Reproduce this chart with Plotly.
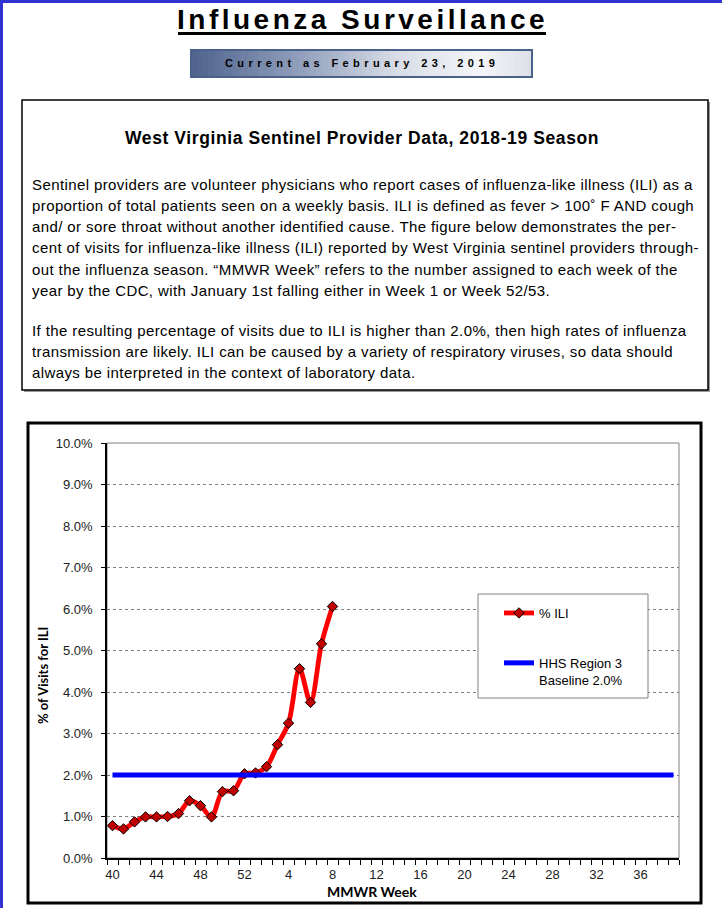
import plotly.graph_objects as go

# ---------------- data ----------------
weeks = ["40", "41", "42", "43", "44", "45", "46", "47", "48", "49", "50", "51", "52",
         "1", "2", "3", "4", "5", "6", "7", "8", "9", "10", "11", "12", "13", "14",
         "15", "16", "17", "18", "19", "20", "21", "22", "23", "24", "25", "26", "27",
         "28", "29", "30", "31", "32", "33", "34", "35", "36", "37", "38", "39"]
label_weeks = ["40", "44", "48", "52", "4", "8", "12", "16", "20", "24", "28", "32", "36"]

ili_weeks = ["40", "41", "42", "43", "44", "45", "46", "47", "48", "49", "50", "51", "52",
             "1", "2", "3", "4", "5", "6", "7", "8"]
ili_pct = [0.78, 0.70, 0.87, 0.99, 0.99, 1.00, 1.07, 1.38, 1.26, 0.99, 1.60, 1.62, 2.03,
           2.05, 2.20, 2.73, 3.25, 4.56, 3.75, 5.16, 6.06]

baseline_weeks = ["40", "39"]
baseline_pct = [2.0, 2.0]

y_tick_vals = [0, 1, 2, 3, 4, 5, 6, 7, 8, 9, 10]
y_tick_text = ["0.0%", "1.0%", "2.0%", "3.0%", "4.0%", "5.0%", "6.0%", "7.0%", "8.0%", "9.0%", "10.0%"]

title_text = "Influenza Surveillance"
date_text = "Current as February 23, 2019"
heading_text = "West Virginia Sentinel Provider Data, 2018-19 Season"
para_lines = [
    "Sentinel providers are volunteer physicians who report cases of influenza-like illness (ILI) as a",
    "proportion of total patients seen on a weekly basis. ILI is defined as fever &gt; 100\u02da F AND cough",
    "and/ or sore throat without another identified cause. The figure below demonstrates the per-",
    "cent of visits for influenza-like illness (ILI) reported by West Virginia sentinel providers through-",
    "out the influenza season. \u201cMMWR Week\u201d refers to the number assigned to each week of the",
    "year by the CDC, with January 1st falling either in Week 1 or Week 52/53.",
    "If the resulting percentage of visits due to ILI is higher than 2.0%, then high rates of influenza",
    "transmission are likely. ILI can be caused by a variety of respiratory viruses, so data should",
    "always be interpreted in the context of laboratory data.",
]
para_y = [185, 206, 227, 248, 269, 290, 330, 351, 372]

# ---------------- geometry helpers ----------------
W, H = 722, 908
ML, MR, MT, MB = 107, 43, 443, 50
PW = W - ML - MR
PH = H - MT - MB


def X(p):
    return (p - ML) / PW


def Y(p):
    return (H - MB - p) / PH


FONT = "Liberation Sans, Arial, sans-serif"
AXT_FONT = "Lato, Liberation Sans, sans-serif"

fig = go.Figure()
fig.add_trace(go.Scatter(
    x=ili_weeks, y=ili_pct, mode="lines+markers", name="% ILI", legendgroup="ili",
    line=dict(color="#ff0000", width=4.8, shape="spline", smoothing=0.9),
    marker=dict(symbol="diamond", size=8, color="#c00000", line=dict(color="#000000", width=1)),
))
fig.add_trace(go.Scatter(
    x=baseline_weeks, y=baseline_pct, mode="lines", name="HHS Region 3<br>Baseline 2.0%",
    legendgroup="base", line=dict(color="#0000ff", width=5),
))

shapes = []


def rect(x0, y0, x1, y1, fill=None, line_color=None, lw=0, layer="below"):
    d = dict(type="rect", xref="paper", yref="paper", x0=X(x0), x1=X(x1), y0=Y(y1), y1=Y(y0),
             layer=layer, line=dict(width=lw, color=line_color or "rgba(0,0,0,0)"))
    d["fillcolor"] = fill if fill else "rgba(0,0,0,0)"
    shapes.append(d)


# page blue edges
rect(0, 0, 3, H, fill="#3232d2")
rect(0, 0, W, 3, fill="#3232d2")

# title underline
shapes.append(dict(type="line", xref="paper", yref="paper", x0=X(178), x1=X(546),
                   y0=Y(33.5), y1=Y(33.5), line=dict(color="#000000", width=3)))

# date box gradient
stops = [(0.0, (78, 98, 140)), (0.3, (140, 155, 185)), (0.6, (215, 220, 230)),
         (0.85, (244, 245, 248)), (1.0, (220, 223, 230))]


def grad(t):
    for (a, ca), (b, cb) in zip(stops[:-1], stops[1:]):
        if a <= t <= b:
            f = (t - a) / (b - a)
            return "rgb(%d,%d,%d)" % tuple(round(ca[i] + (cb[i] - ca[i]) * f) for i in range(3))
    return "rgb(220,223,230)"


bx0, bx1, by0, by1 = 191, 532, 50, 77
n = 60
for i in range(n):
    xa = bx0 + (bx1 - bx0) * i / n
    xb = bx0 + (bx1 - bx0) * (i + 1) / n + 0.6
    rect(xa, by0, xb, by1, fill=grad((i + 0.5) / n))
rect(bx0, by0, bx1, by1, line_color="#4a6289", lw=2)

# text box with shadow
rect(24, 102, 710, 392, fill="#9a9a9a")
rect(22, 100, 708, 390, fill="#ffffff", line_color="#000000", lw=1.5)

# chart outer frame
rect(28, 423, 701, 903, line_color="#000000", lw=3)

# plot area frame
shapes.append(dict(type="rect", xref="paper", yref="paper", x0=0, x1=1, y0=0, y1=1,
                   layer="below", line=dict(color="#808080", width=1)))

# legend box
rect(478, 594, 648, 698, fill="#ffffff", line_color="#808080", lw=1, layer="above")

annotations = []
annotations.append(dict(
    x=X(362), y=Y(20), xref="paper", yref="paper", showarrow=False, xanchor="center", yanchor="middle",
    text="<b><span style='letter-spacing:3.5px'>" + title_text + "</span></b>",
    font=dict(family=FONT, size=28, color="#000000")))
annotations.append(dict(
    x=X(361.5), y=Y(63), xref="paper", yref="paper", showarrow=False, xanchor="center", yanchor="middle",
    text="<b><span style='letter-spacing:4.4px'>" + date_text + "</span></b>",
    font=dict(family=FONT, size=11, color="#000000")))
annotations.append(dict(
    x=X(362), y=Y(138), xref="paper", yref="paper", showarrow=False, xanchor="center", yanchor="middle",
    text="<b><span style='letter-spacing:0.6px'>" + heading_text + "</span></b>",
    font=dict(family=FONT, size=17.5, color="#000000")))
for t, ly in zip(para_lines, para_y):
    annotations.append(dict(
        x=X(30), y=Y(ly), xref="paper", yref="paper", showarrow=False, xanchor="left", yanchor="middle",
        text="<span style='letter-spacing:0.4px'>" + t + "</span>",
        font=dict(family=FONT, size=15, color="#000000")))
annotations.append(dict(
    x=X(43), y=Y(676), xref="paper", yref="paper", showarrow=False, xanchor="center", yanchor="middle",
    textangle=-90, text="<b>% of Visits for ILI</b>", font=dict(family=AXT_FONT, size=13, color="#000000")))
annotations.append(dict(
    x=X(372), y=Y(891), xref="paper", yref="paper", showarrow=False, xanchor="center", yanchor="middle",
    text="<b>MMWR Week</b>", font=dict(family=AXT_FONT, size=14, color="#000000")))

fig.update_layout(
    width=W, height=H, margin=dict(l=ML, r=MR, t=MT, b=MB, autoexpand=False),
    paper_bgcolor="#ffffff", plot_bgcolor="#ffffff",
    shapes=shapes, annotations=annotations,
    legend=dict(x=X(499), y=Y(598), xanchor="left", yanchor="top", bgcolor="rgba(0,0,0,0)",
                borderwidth=0, tracegroupgap=30, valign="top",
                font=dict(family=FONT, size=13, color="#000000")),
    xaxis=dict(type="category", categoryorder="array", categoryarray=weeks, range=[-0.5, len(weeks) - 0.5],
               tickmode="array", tickvals=weeks,
               ticktext=[w if w in label_weeks else "" for w in weeks],
               tickson="boundaries", ticks="outside", ticklen=5, tickcolor="#000000", tickwidth=1,
               tickangle=0, ticklabelstandoff=4,
               showline=True, linecolor="#000000", linewidth=1.5, showgrid=False, zeroline=False,
               tickfont=dict(family=FONT, size=13, color="#222222")),
    yaxis=dict(range=[0, 10], tickmode="array", tickvals=y_tick_vals, ticktext=y_tick_text,
               ticks="outside", ticklen=4, tickcolor="#000000", showline=True, linecolor="#000000",
               linewidth=1.5, showgrid=True, gridcolor="#7f7f7f", gridwidth=1, griddash="dot",
               zeroline=False, ticklabelstandoff=6,
               tickfont=dict(family=FONT, size=13, color="#222222")),
)

fig.write_html("out.html", config={"displayModeBar": False},
               post_script="document.body.style.margin='0';document.body.style.overflow='hidden';")
